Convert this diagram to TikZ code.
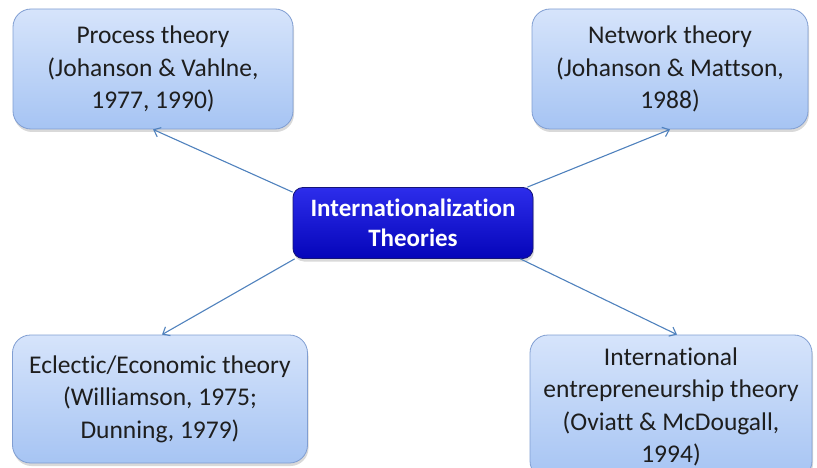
\documentclass[tikz,border=0pt]{standalone}
\usepackage{fontspec}
\setmainfont{Carlito}[Ligatures=NoCommon]
\usepackage{tikz}
\usetikzlibrary{arrows.meta,shadows}

\definecolor{boxtop}{RGB}{214,228,251}
\definecolor{boxbottom}{RGB}{166,196,243}
\definecolor{boxline}{RGB}{128,158,210}
\definecolor{hubtop}{RGB}{45,45,235}
\definecolor{hubbottom}{RGB}{5,5,185}
\definecolor{hubline}{RGB}{20,20,120}
\definecolor{linkblue}{RGB}{79,129,189}
\definecolor{textgray}{RGB}{30,30,30}

\begin{document}
\begin{tikzpicture}[x=1pt, y=-1pt,
  theory/.style={rectangle, rounded corners=18pt, draw=boxline, line width=0.8pt, top color=boxtop, bottom color=boxbottom, drop shadow={shadow xshift=1pt, shadow yshift=-3pt, opacity=0.3}, align=center, inner sep=0pt, text=textgray, font=\fontsize{25.5}{32.5}\selectfont},
  hub/.style={rectangle, rounded corners=10pt, draw=hubline, line width=0.8pt, top color=hubtop, bottom color=hubbottom, drop shadow={shadow xshift=1pt, shadow yshift=-3pt, opacity=0.3}, align=center, inner sep=0pt, text=white, font=\bfseries\fontsize{25}{30}\selectfont},
  link/.style={draw=linkblue, line width=1.1pt, -{Straight Barb[length=6pt,width=10pt]}}]
  \useasboundingbox (0,0) rectangle (817,468);

  \node[theory, minimum width=280pt, minimum height=120pt] (process) at (153,69) {Process theory\\(Johanson \& Vahlne,\\1977, 1990)};
  \node[theory, minimum width=276pt, minimum height=120pt] (network) at (670,69) {Network theory\\(Johanson \& Mattson,\\1988)};
  \node[theory, minimum width=295pt, minimum height=128pt] (eclectic) at (160,399) {Eclectic/Economic theory\\(Williamson, 1975;\\Dunning, 1979)};
  \node[theory, minimum width=282pt, minimum height=144pt] (entrepreneur) at (671,407) {International\\entrepreneurship theory\\(Oviatt \& McDougall,\\1994)};
  \node[hub, minimum width=240pt, minimum height=71pt] (centre) at (413,223) {Internationalization\\Theories};

  \draw[link] ([yshift=-5pt]centre.north west) -- (process.south);
  \draw[link] ([xshift=-6pt]centre.north east) -- (network.south);
  \draw[link] ([xshift=2pt]centre.south west) -- ([xshift=2pt]eclectic.north);
  \draw[link] ([xshift=-13pt]centre.south east) -- ([xshift=6pt]entrepreneur.north);

\end{tikzpicture}
\end{document}
